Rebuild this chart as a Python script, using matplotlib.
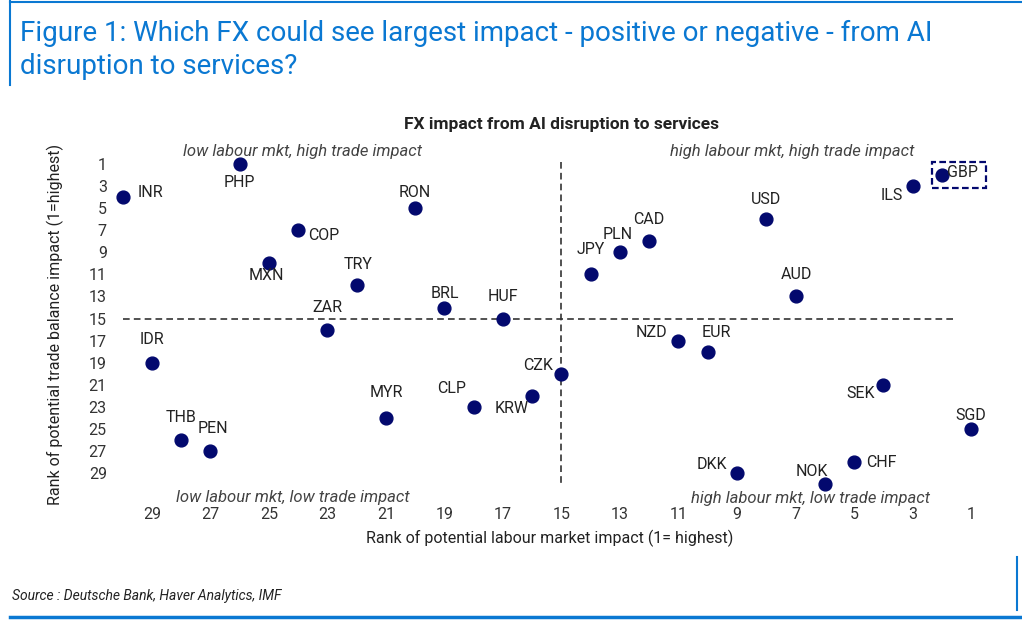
import matplotlib.pyplot as plt
from matplotlib.patches import FancyBboxPatch
from matplotlib.lines import Line2D

# data: (labour market rank, trade balance rank)
ccy = ['INR', 'PHP', 'RON', 'COP', 'MXN', 'TRY', 'BRL', 'HUF', 'ZAR', 'IDR',
       'MYR', 'CLP', 'KRW', 'CZK', 'THB', 'PEN', 'JPY', 'PLN', 'CAD', 'USD',
       'AUD', 'ILS', 'GBP', 'NZD', 'EUR', 'SEK', 'SGD', 'DKK', 'NOK', 'CHF']
labour_rank = [30, 26, 20, 24, 25, 22, 19, 17, 23, 29,
               21, 18, 16, 15, 28, 27, 14, 13, 12, 8,
               7, 3, 2, 11, 10, 4, 1, 9, 6, 5]
trade_rank = [4, 1, 5, 7, 10, 12, 14, 15, 16, 19,
              24, 23, 22, 20, 26, 27, 11, 9, 8, 6,
              13, 3, 2, 17, 18, 21, 25, 29, 30, 28]
xticks = list(range(29, 0, -2))
yticks = list(range(1, 30, 2))

# label offsets in points (dx, dy, ha)
offs = {
    'INR': (11, 3, 'left'), 'PHP': (0, -13, 'center'), 'RON': (0, 11, 'center'),
    'COP': (7, -4, 'left'), 'MXN': (-2, -9, 'center'), 'TRY': (1, 15, 'center'),
    'BRL': (0, 10, 'center'), 'HUF': (0, 16, 'center'), 'ZAR': (0, 16, 'center'),
    'IDR': (0, 17, 'center'), 'MYR': (0, 18, 'center'), 'CLP': (-16, 13, 'center'),
    'KRW': (-15, -9, 'center'), 'CZK': (-6, 6, 'right'), 'THB': (0, 16, 'center'),
    'PEN': (2, 16, 'center'), 'JPY': (0, 18, 'center'), 'PLN': (-2, 13, 'center'),
    'CAD': (0, 16, 'center'), 'USD': (0, 14, 'center'), 'AUD': (1, 16, 'center'),
    'ILS': (-7, -7, 'right'), 'GBP': (4, 2, 'left'), 'NZD': (-8, 6, 'right'),
    'EUR': (6, 14, 'center'), 'SEK': (-6, -6, 'right'), 'SGD': (0, 10, 'center'),
    'DKK': (-7, 6, 'right'), 'NOK': (-9, 9, 'center'), 'CHF': (9, 0, 'left'),
}

blue = '#0a78d2'
navy = '#03096e'
txt = '#222222'
plt.rcParams['font.family'] = ['Roboto', 'DejaVu Sans']

fig = plt.figure(figsize=(10.22, 6.23), dpi=100)
ax = fig.add_axes([0.1086, 0.1945, 0.8587, 0.5706])

ax.plot([30, 1.5], [15, 15], ls=(0, (4, 2.5)), color='#333333', lw=1.2)
ax.plot([15, 15], [0.8, 30.2], ls=(0, (4, 2.5)), color='#333333', lw=1.2)
ax.scatter(labour_rank, trade_rank, s=85, color=navy, zorder=3)

for name, x, y in zip(ccy, labour_rank, trade_rank):
    dx, dy, ha = offs[name]
    ax.annotate(name, (x, y), xytext=(dx, dy), textcoords='offset points',
                ha=ha, va='center', fontsize=11.5, color=txt)

# dashed box round GBP
box = FancyBboxPatch((0, 0), 1, 1, boxstyle='square,pad=0', fill=False,
                     ec=navy, lw=1.6, ls=(0, (3, 1.5)),
                     transform=fig.transFigure)
box.set_bounds(932 / 1022, 1 - 188 / 623, 54 / 1022, 26 / 623)
fig.patches.append(box)

ax.set_xlim(30.4, 0.4)
ax.set_ylim(31.6, -0.6)
ax.set_xticks(xticks)
ax.set_yticks(yticks)
ax.tick_params(axis='x', length=0, labelsize=11.5, labelcolor='#333333', pad=4)
ax.tick_params(axis='y', length=0, labelsize=11.5, labelcolor='#333333', pad=3)
for s in ax.spines.values():
    s.set_visible(False)

kw = dict(fontsize=12, style='italic', color='#444444', ha='center', va='center')
ax.text(23.85, -0.1, 'low labour mkt, high trade impact', **kw)
ax.text(7.1, -0.1, 'high labour mkt, high trade impact', **kw)
ax.text(24.2, 31.2, 'low labour mkt, low trade impact', **kw)
ax.text(6.5, 31.3, 'high labour mkt, low trade impact', **kw)

ax.set_xlabel('Rank of potential labour market impact (1= highest)',
              fontsize=11.5, color=txt, labelpad=5)
ax.set_ylabel('Rank of potential trade balance impact (1=highest)',
              fontsize=11.5, color=txt, labelpad=18)
fig.text(561 / 1022, 1 - 124 / 623, 'FX impact from AI disruption to services',
         ha='center', va='center', fontsize=12.5, weight='bold', color=txt)

fig.text(20 / 1022, 1 - 50 / 623,
         'Figure 1: Which FX could see largest impact - positive or negative - from AI\n'
         'disruption to services?',
         ha='left', va='center', fontsize=20, color=blue, linespacing=1.3)
fig.text(12 / 1022, 1 - 596 / 623, 'Source : Deutsche Bank, Haver Analytics, IMF',
         ha='left', va='center', fontsize=10, style='italic', color=txt)

fig.add_artist(Line2D([10 / 1022, 1], [1 - 2 / 623] * 2, color=blue, lw=1.5,
                      transform=fig.transFigure))
fig.add_artist(Line2D([10 / 1022] * 2, [1, 1 - 85 / 623], color=blue, lw=1.5,
                      transform=fig.transFigure))
fig.add_artist(Line2D([10 / 1022, 1], [1 - 617 / 623] * 2, color=blue, lw=2.5,
                      transform=fig.transFigure))
fig.add_artist(Line2D([1017 / 1022] * 2, [1 - 557 / 623, 1 - 610 / 623],
                      color=blue, lw=1.5, transform=fig.transFigure))

fig.savefig('out.png', dpi=100)
